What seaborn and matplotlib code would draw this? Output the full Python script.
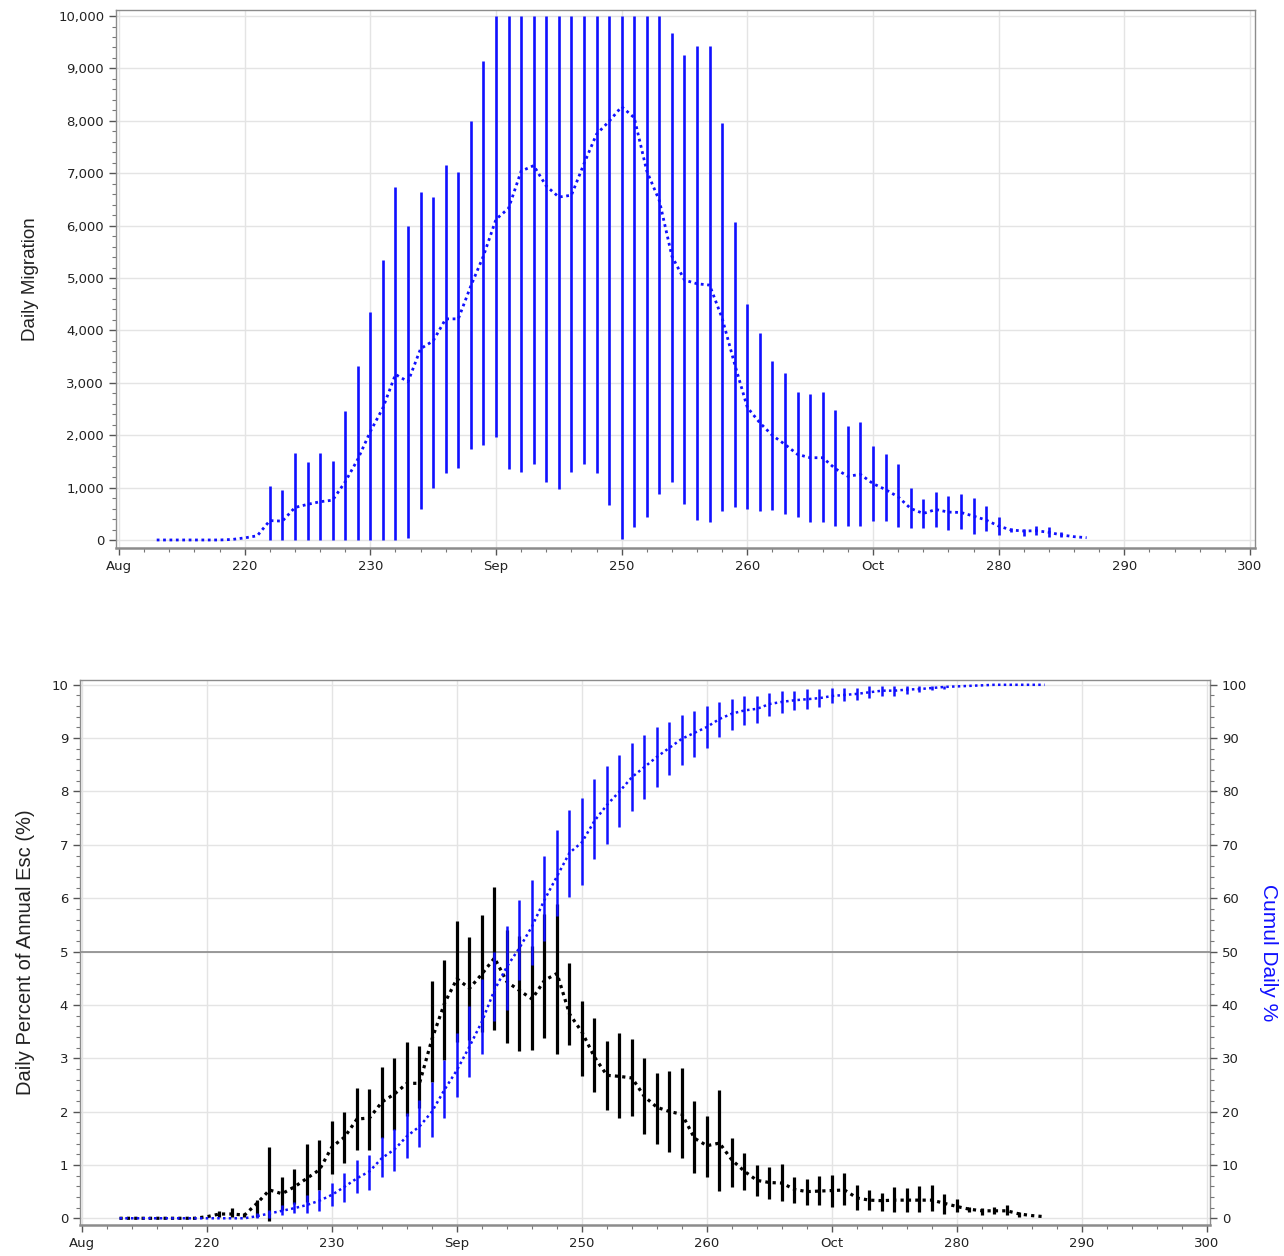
import numpy as np
import pandas as pd
import matplotlib
matplotlib.use("Agg")
import matplotlib.pyplot as plt
from matplotlib.ticker import MultipleLocator, FuncFormatter, FixedLocator
import seaborn as sns

# ---------------- data ----------------
days = list(range(213, 288))

mig_mean = [0, 0, 0, 0, 0, 0, 10, 40, 80, 370, 360, 620, 680, 730, 760, 1110, 1540, 2070,
            2520, 3160, 3020, 3650, 3800, 4220, 4220, 4850, 5420, 6120, 6330, 7040, 7145,
            6755, 6545, 6580, 7180, 7745, 7990, 8270, 8060, 7040, 6475, 5415, 4960, 4890,
            4865, 4230, 3350, 2530, 2235, 1995, 1823, 1633, 1570, 1570, 1361, 1215, 1253,
            1076, 962, 823, 601, 506, 582, 532, 525, 456, 380, 266, 190, 171, 177, 146, 95,
            63, 44]

mig_bar_days = list(range(222, 286))
mig_lo = [0, 0, 0, 0, 0, 0, 0, 0, 0, 0, 0, 42, 600, 987, 1283, 1375, 1742, 1820, 1975,
          1361, 1290, 1453, 1114, 973, 1305, 1453, 1270, 677, 14, 254, 444, 882, 1114, 691,
          374, 338, 550, 620, 590, 555, 570, 487, 430, 342, 342, 266, 266, 266, 361, 367,
          253, 234, 222, 253, 190, 209, 114, 177, 95, 146, 76, 95, 50, 50]
mig_hi = [1030, 960, 1665, 1495, 1665, 1516, 2468, 3322, 4344, 5345, 6742, 5987, 6650,
          6544, 7158, 7024, 7990, 9133, 10000, 10000, 10000, 10000, 10000, 10000, 10000,
          10000, 10000, 10000, 10000, 10000, 10000, 10000, 9680, 9250, 9435, 9420, 7955,
          6065, 4513, 3956, 3420, 3196, 2816, 2785, 2816, 2481, 2184, 2259, 1785, 1646,
          1456, 994, 778, 918, 835, 873, 797, 646, 430, 222, 203, 266, 253, 146]

pct_mean = [0, 0, 0, 0, 0, 0, 0, 0.03, 0.08, 0.08, 0.06, 0.28, 0.53, 0.46, 0.59, 0.75,
            0.91, 1.34, 1.52, 1.86, 1.88, 2.18, 2.33, 2.53, 2.53, 3.36, 4.03, 4.49, 4.31,
            4.58, 4.88, 4.43, 4.27, 4.11, 4.46, 4.59, 3.83, 3.49, 3.02, 2.68, 2.66, 2.63,
            2.28, 2.08, 2.00, 1.95, 1.50, 1.36, 1.41, 1.09, 0.88, 0.71, 0.67, 0.66, 0.54,
            0.50, 0.51, 0.52, 0.53, 0.38, 0.34, 0.33, 0.34, 0.34, 0.34, 0.34, 0.28, 0.22,
            0.17, 0.14, 0.14, 0.14, 0.08, 0.05, 0.03]

pct_bar_days = list(range(221, 286))
pct_lo = [0.03, 0.03, 0.03, 0.03, -0.06, 0.16, 0.27, 0.31, 0.53, 0.83, 1.04, 1.28, 1.28,
          1.50, 1.66, 1.91, 2.06, 2.56, 2.96, 3.30, 3.35, 3.50, 3.53, 3.29, 3.13, 3.16,
          3.38, 3.08, 3.25, 2.67, 2.36, 2.03, 1.88, 1.92, 1.58, 1.39, 1.25, 1.13, 0.84,
          0.77, 0.51, 0.58, 0.53, 0.42, 0.36, 0.33, 0.29, 0.25, 0.25, 0.21, 0.25, 0.16,
          0.16, 0.14, 0.11, 0.11, 0.11, 0.13, 0.08, 0.11, 0.11, 0.07, 0.08, 0.06, 0.03]
pct_hi = [0.13, 0.19, 0.10, 0.34, 1.33, 0.78, 0.92, 1.39, 1.47, 1.83, 1.99, 2.45, 2.43,
          2.83, 3.00, 3.31, 3.22, 4.44, 4.84, 5.58, 5.27, 5.68, 6.21, 5.40, 5.30, 5.10,
          5.70, 5.90, 4.78, 4.08, 3.76, 3.33, 3.47, 3.36, 3.00, 2.73, 2.76, 2.81, 2.19,
          1.92, 2.41, 1.51, 1.22, 0.99, 0.96, 1.01, 0.77, 0.74, 0.79, 0.81, 0.84, 0.63,
          0.53, 0.48, 0.58, 0.56, 0.61, 0.63, 0.45, 0.36, 0.22, 0.19, 0.21, 0.25, 0.11]

cum_mean = [0, 0, 0, 0, 0, 0, 0, 0, 0, 0, 0, 0.4, 0.9, 1.4, 1.9, 2.5, 3.3, 4.4, 5.9, 7.5,
            8.8, 11.3, 12.9, 15.4, 17.2, 20.0, 24.1, 27.8, 32.2, 36.9, 42.8, 47.2, 50.7,
            54.7, 59.7, 64.1, 68.5, 70.5, 74.5, 77.5, 80.0, 82.7, 84.6, 86.5, 88.2, 89.9,
            91.0, 92.1, 93.6, 94.6, 95.2, 95.5, 96.4, 96.8, 97.1, 97.3, 97.5, 97.9, 98.1,
            98.3, 98.6, 98.9, 98.9, 99.1, 99.2, 99.4, 99.6, 99.7, 99.8, 99.9, 100, 100,
            100, 100, 100]

cum_bar_days = list(range(224, 280))
cum_lo = [0.0, 0.0, 0.6, 0.9, 0.9, 1.3, 2.3, 3.1, 4.7, 5.3, 7.8, 8.8, 11.3, 13.3, 15.2,
          18.8, 22.8, 26.5, 30.8, 36.9, 39.0, 44.7, 47.5, 51.9, 56.6, 60.3, 62.5, 67.3,
          70.2, 73.3, 76.4, 78.6, 80.9, 83.1, 85.0, 86.4, 88.1, 90.3, 91.6, 92.5, 92.8,
          94.2, 94.8, 95.2, 95.4, 95.9, 96.6, 96.9, 97.2, 97.5, 97.9, 97.9, 98.3, 98.6,
          99.0, 99.3]
cum_hi = [1.0, 1.6, 2.5, 3.1, 4.4, 5.3, 6.7, 8.4, 10.9, 11.9, 15.2, 16.7, 19.7, 22.2,
          25.6, 29.7, 34.8, 39.7, 44.8, 50.0, 54.7, 59.6, 63.5, 68.0, 72.7, 76.6, 78.8,
          82.4, 84.7, 86.9, 89.1, 90.5, 92.1, 93.1, 94.4, 95.0, 96.1, 96.7, 97.3, 97.9,
          97.9, 98.4, 98.9, 98.9, 99.2, 99.2, 99.4, 99.4, 99.4, 99.8, 99.8, 99.7, 99.7,
          99.7, 99.8, 99.8]

x_ticks = [210, 220, 230, 240, 250, 260, 270, 280, 290, 300]
x_tick_labels = ["Aug", "220", "230", "Sep", "250", "260", "Oct", "280", "290", "300"]

# ---------------- style ----------------
sns.set_theme(style="white")
plt.rcParams["font.family"] = ["DejaVu Sans"]

BLUE = "#1010ff"
GRID = "#e4e4e4"
SPINE = "#8c8c8c"
DOT = (0, (1.0, 1.3))

fig = plt.figure(figsize=(12.84, 12.56), dpi=100)
ax1 = fig.add_axes([116 / 1284, 1 - 548 / 1256, (1255 - 116) / 1284, (548 - 10) / 1256])
ax2 = fig.add_axes([80 / 1284, 1 - 1225 / 1256, (1210 - 80) / 1284, (1225 - 680) / 1256])


def style_axis(ax):
    for s in ax.spines.values():
        s.set_color(SPINE)
        s.set_linewidth(1.0)
    ax.spines["bottom"].set_linewidth(1.8)
    ax.xaxis.set_major_locator(FixedLocator(x_ticks))
    ax.set_xticklabels(x_tick_labels)
    ax.xaxis.set_minor_locator(MultipleLocator(2))
    ax.grid(True, which="major", color=GRID, linewidth=1.0)
    ax.set_axisbelow(True)
    ax.tick_params(axis="both", which="major", direction="out", length=5, width=1,
                   color="#555555", labelsize=9.5, labelcolor="#222222",
                   bottom=True, left=True)
    ax.tick_params(axis="both", which="minor", direction="out", length=3, width=0.8,
                   color="#777777", bottom=True, left=True)


# ---------------- top chart ----------------
style_axis(ax1)
ax1.vlines(mig_bar_days, mig_lo, mig_hi, color=BLUE, linewidth=1.9, zorder=3)
sns.lineplot(x=days, y=mig_mean, ax=ax1, color=BLUE, linewidth=2.0, linestyle=DOT,
             zorder=4)
ax1.set_xlim(209.76, 300.4)
ax1.set_ylim(-153, 10115)
ax1.yaxis.set_major_locator(MultipleLocator(1000))
ax1.yaxis.set_minor_locator(MultipleLocator(200))
ax1.yaxis.set_major_formatter(FuncFormatter(lambda v, p: f"{int(v):,}"))
ax1.set_ylabel("Daily Migration", fontsize=13.5, family="Liberation Sans",
               color="#222222", labelpad=14)
ax1.set_xlabel("")

# ---------------- bottom chart ----------------
style_axis(ax2)
ax2.axhline(5, color="#8a8a8a", linewidth=1.2, zorder=2)
ax2.vlines(pct_bar_days, pct_lo, pct_hi, color="black", linewidth=2.3, zorder=3)
sns.lineplot(x=days, y=pct_mean, ax=ax2, color="black", linewidth=2.3, linestyle=DOT,
             zorder=4)
ax2.set_xlim(209.84, 300.24)
ax2.set_ylim(-0.126, 10.09)
ax2.yaxis.set_major_locator(MultipleLocator(1))
ax2.yaxis.set_minor_locator(MultipleLocator(0.2))
ax2.set_ylabel("Daily Percent of Annual Esc (%)", fontsize=14.5, family="Liberation Sans",
               color="#222222", labelpad=12)
ax2.set_xlabel("")

ax3 = ax2.twinx()
for s in ax3.spines.values():
    s.set_visible(False)
ax3.vlines(cum_bar_days, cum_lo, cum_hi, color=BLUE, linewidth=1.8, zorder=3)
sns.lineplot(x=days, y=cum_mean, ax=ax3, color=BLUE, linewidth=1.8, linestyle=DOT,
             zorder=4)
ax3.set_ylim(-1.26, 100.9)
ax3.yaxis.set_major_locator(MultipleLocator(10))
ax3.yaxis.set_minor_locator(MultipleLocator(2))
ax3.grid(False)
ax3.tick_params(axis="y", which="major", direction="out", length=5, width=1,
                color="#555555", labelsize=9.5, labelcolor="#222222", right=True)
ax3.tick_params(axis="y", which="minor", direction="out", length=3, width=0.8,
                color="#777777", right=True)
ax3.set_ylabel("Cumul Daily %", fontsize=15, family="Liberation Sans", color=BLUE,
               rotation=270, labelpad=22)
ax3.set_xlabel("")

fig.savefig("out.png", dpi=100)
